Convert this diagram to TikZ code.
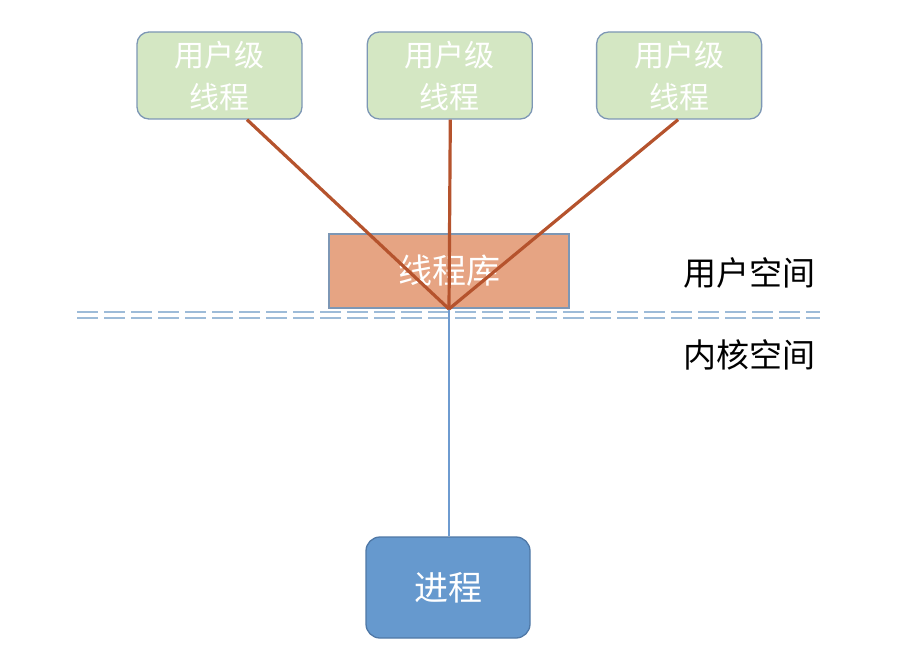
\documentclass[tikz,border=0pt]{standalone}
\usepackage{fontspec}
\setmainfont{Noto Sans CJK SC}
\usetikzlibrary{positioning}
\definecolor{ulgreen}{HTML}{D4E7C3}
\definecolor{libsalmon}{HTML}{E6A483}
\definecolor{procblue}{HTML}{6699CE}
\definecolor{edgegray}{HTML}{7D97B5}
\definecolor{procedge}{HTML}{4F78A6}
\definecolor{threadred}{HTML}{B5532D}
\definecolor{kernblue}{HTML}{6E9BD0}
\definecolor{sepblue}{HTML}{9DBBD8}
\tikzset{ulblock/.style={draw=edgegray, line width=1.3pt, fill=ulgreen, rounded corners=12pt, minimum width=165pt, minimum height=87pt, inner sep=0pt, align=center, text=white, font=\fontsize{30}{42}\selectfont},
libblock/.style={draw=edgegray, line width=1.3pt, fill=libsalmon, minimum width=240pt, minimum height=74pt, inner sep=0pt, text=white, font=\fontsize{34}{40}\selectfont},
procblock/.style={draw=procedge, line width=1.3pt, fill=procblue, rounded corners=14pt, minimum width=164pt, minimum height=101pt, inner sep=0pt, text=white, font=\fontsize{34}{40}\selectfont},
spacelabel/.style={text=black, font=\fontsize{33}{40}\selectfont},
thread/.style={draw=threadred, line width=3.2pt},
kernline/.style={draw=kernblue, line width=2.8pt},
sepline/.style={draw=sepblue, line width=2.4pt, double=white, double distance=3.6pt, dash pattern=on 21pt off 6pt}
}
\begin{document}
\begin{tikzpicture}[x=1pt, y=-1pt]
\useasboundingbox (0,0) rectangle (912,663);
\node[ulblock] (u1) at (219.5,75.5) {用户级\\线程};
\node[ulblock, right=64pt of u1] (u2) {用户级\\线程};
\node[ulblock, right=63pt of u2] (u3) {用户级\\线程};
\node[libblock] (lib) at (449,271) {线程库};
\node[procblock] (proc) at (448,587.5) {进程};
\node[spacelabel] (us) at (749,273) {用户空间};
\node[spacelabel] (ks) at (749,355) {内核空间};
 % separator between user and kernel space
\coordinate (sepl) at (77,315);
\coordinate (sepr) at (820,315);
\coordinate (join) at (449,309);
\draw[sepline] (sepl) -- (sepr);
\draw[kernline] (join) -- (proc.north -| join);
\draw[thread] ([xshift=27.5pt]u1.south) -- (join);
\draw[thread] ([xshift=0.5pt]u2.south) -- (join);
\draw[thread] ([xshift=-1pt]u3.south) -- (join);
\end{tikzpicture}
\end{document}
